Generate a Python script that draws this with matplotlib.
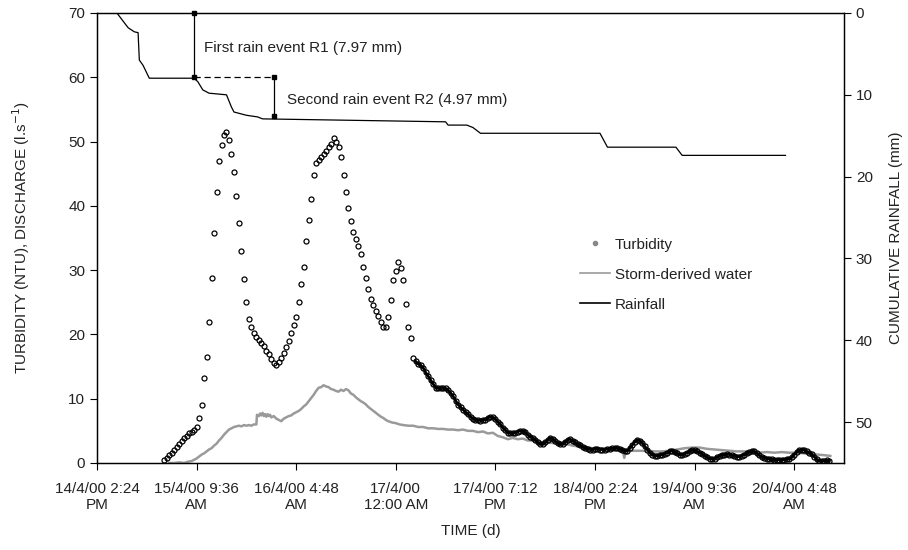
import matplotlib
matplotlib.use('Agg')
import matplotlib.pyplot as plt
from matplotlib.lines import Line2D
import numpy as np

plt.rcParams['font.family'] = ['Liberation Sans', 'DejaVu Sans']

# time axis: days after 14/4/00 2:24 PM
tick_pos = [0.0, 0.8, 1.6, 2.4, 3.2, 4.0, 4.8, 5.6]
tick_labels = ['14/4/00 2:24\nPM', '15/4/00 9:36\nAM', '16/4/00 4:48\nAM', '17/4/00\n12:00 AM',
               '17/4/00 7:12\nPM', '18/4/00 2:24\nPM', '19/4/00 9:36\nAM', '20/4/00 4:48\nAM']

# turbidity (NTU), one reading every 0.02 d from 0.54 d
turb_start = 0.54
turb_step = 0.02
turbidity = [
    0.4, 0.8, 1.2, 1.6, 2.0, 2.5, 3.0, 3.5, 3.9, 4.2,
    4.6, 4.9, 5.2, 5.6, 7.0, 9.0, 13.2, 16.5, 21.9, 28.8,
    35.8, 42.2, 47.0, 49.5, 51.0, 51.5, 50.3, 48.1, 45.2, 41.5,
    37.3, 33.0, 28.7, 25.1, 22.4, 21.1, 20.3, 19.6, 19.1, 18.7,
    18.2, 17.5, 16.9, 16.2, 15.6, 15.3, 15.7, 16.3, 17.1, 18.0,
    19.0, 20.2, 21.4, 22.7, 25.0, 27.9, 30.5, 34.5, 37.8, 41.1,
    44.8, 46.6, 47.1, 47.6, 48.1, 48.6, 49.1, 49.7, 50.5, 50.0,
    49.2, 47.6, 44.8, 42.1, 39.6, 37.7, 35.9, 34.8, 33.7, 32.5,
    30.5, 28.8, 27.0, 25.5, 24.6, 23.7, 22.8, 21.9, 21.2, 21.2,
    22.7, 25.3, 28.4, 29.9, 31.2, 30.4, 28.4, 24.7, 21.1, 19.5,
    16.4, 15.8, 15.4, 15.2, 14.8, 14.1, 13.5, 12.9, 12.3, 11.7,
    11.6, 11.6, 11.6, 11.6, 11.3, 10.9, 10.4, 9.7, 9.1, 8.7,
    8.3, 7.9, 7.6, 7.2, 6.9, 6.7, 6.7, 6.6, 6.7, 6.7,
    7.0, 7.2, 7.1, 6.8, 6.4, 6.0, 5.5, 5.1, 4.7, 4.6,
    4.6, 4.7, 4.9, 5.0, 5.0, 4.8, 4.4, 4.1, 3.9, 3.6,
    3.2, 2.9, 2.9, 3.2, 3.6, 3.9, 3.8, 3.4, 3.1, 2.9,
    3.0, 3.3, 3.6, 3.7, 3.5, 3.2, 2.9, 2.8, 2.5, 2.3,
    2.2, 2.1, 2.1, 2.2, 2.2, 2.1, 2.1, 2.1, 2.2, 2.2,
    2.3, 2.3, 2.3, 2.2, 2.0, 1.9, 1.9, 2.3, 2.8, 3.3,
    3.6, 3.5, 3.1, 2.6, 2.1, 1.6, 1.3, 1.1, 1.1, 1.2,
    1.3, 1.4, 1.6, 1.8, 1.9, 1.7, 1.5, 1.3, 1.2, 1.4,
    1.6, 1.8, 2.0, 2.0, 1.8, 1.6, 1.4, 1.1, 0.9, 0.7,
    0.6, 0.7, 0.9, 1.1, 1.2, 1.3, 1.4, 1.3, 1.2, 1.1,
    1.0, 1.0, 1.1, 1.3, 1.5, 1.7, 1.8, 1.8, 1.5, 1.2,
    0.9, 0.8, 0.7, 0.6, 0.6, 0.5, 0.5, 0.5, 0.5, 0.5,
    0.6, 0.6, 0.9, 1.3, 1.7, 2.0, 2.1, 2.0, 1.8, 1.6,
    1.4, 1.0, 0.6, 0.3, 0.3, 0.3, 0.4, 0.3,
]

# storm-derived water discharge (l/s): (day, value)
storm = [
    (0.58, 0.0), (0.62, 0.0), (0.66, 0.1), (0.70, 0.0), (0.73, 0.2), (0.76, 0.3), (0.78, 0.5),
    (0.80, 0.7), (0.82, 1.0), (0.84, 1.3), (0.86, 1.5), (0.88, 1.8), (0.90, 2.1), (0.92, 2.3),
    (0.94, 2.7), (0.96, 3.0), (0.98, 3.5), (1.00, 3.9), (1.02, 4.4), (1.04, 4.8), (1.06, 5.2),
    (1.08, 5.4), (1.10, 5.6), (1.12, 5.7), (1.14, 5.8), (1.16, 5.7), (1.18, 5.9), (1.20, 5.8),
    (1.22, 5.9), (1.24, 5.8), (1.26, 6.0), (1.28, 6.0), (1.285, 7.5), (1.30, 7.3), (1.31, 7.7),
    (1.32, 7.4), (1.33, 7.8), (1.34, 7.3), (1.35, 7.6), (1.36, 7.2), (1.37, 7.6), (1.38, 7.3),
    (1.39, 7.5), (1.40, 7.1), (1.42, 7.3), (1.44, 6.9), (1.46, 6.7), (1.48, 6.5), (1.50, 6.9),
    (1.52, 7.1), (1.54, 7.3), (1.56, 7.4), (1.58, 7.7), (1.60, 7.9), (1.62, 8.1), (1.64, 8.4),
    (1.66, 8.8), (1.68, 9.1), (1.70, 9.6), (1.72, 10.1), (1.74, 10.6), (1.76, 11.2), (1.78, 11.7),
    (1.80, 11.8), (1.82, 12.1), (1.84, 11.9), (1.86, 11.8), (1.88, 11.5), (1.90, 11.4), (1.92, 11.2),
    (1.94, 11.1), (1.96, 11.4), (1.98, 11.2), (2.00, 11.5), (2.02, 11.3), (2.04, 10.8), (2.06, 10.6),
    (2.08, 10.2), (2.10, 9.9), (2.12, 9.6), (2.14, 9.4), (2.16, 9.1), (2.18, 8.7), (2.20, 8.4),
    (2.22, 8.1), (2.24, 7.8), (2.26, 7.5), (2.28, 7.2), (2.30, 7.0), (2.32, 6.7), (2.34, 6.5),
    (2.37, 6.3), (2.40, 6.2), (2.43, 6.0), (2.46, 5.9), (2.50, 5.8), (2.54, 5.8), (2.58, 5.6),
    (2.62, 5.6), (2.66, 5.4), (2.70, 5.4), (2.74, 5.3), (2.78, 5.3), (2.82, 5.2), (2.86, 5.2),
    (2.90, 5.1), (2.94, 5.2), (2.98, 5.0), (3.02, 5.0), (3.06, 4.8), (3.10, 4.9), (3.14, 4.6),
    (3.18, 4.7), (3.22, 4.2), (3.26, 4.0), (3.30, 3.7), (3.34, 3.9), (3.38, 3.7), (3.42, 3.8),
    (3.46, 3.5), (3.50, 3.5), (3.54, 3.3), (3.58, 3.2), (3.62, 3.2), (3.66, 3.1), (3.70, 3.0),
    (3.74, 2.9), (3.78, 2.9), (3.82, 2.7), (3.86, 2.6), (3.90, 2.5), (3.94, 2.4), (3.98, 2.3),
    (4.02, 2.3), (4.06, 2.2), (4.10, 2.1), (4.14, 2.1), (4.18, 2.2), (4.22, 2.2), (4.235, 0.8),
    (4.25, 2.0), (4.30, 1.9), (4.36, 1.9), (4.42, 1.9), (4.48, 1.8), (4.54, 1.8), (4.60, 1.9),
    (4.66, 2.1), (4.72, 2.3), (4.78, 2.4), (4.84, 2.4), (4.90, 2.2), (4.96, 2.1), (5.02, 2.0),
    (5.08, 1.9), (5.14, 1.8), (5.20, 1.8), (5.26, 1.7), (5.32, 1.6), (5.38, 1.7), (5.44, 1.6),
    (5.50, 1.7), (5.56, 1.6), (5.62, 1.6), (5.68, 1.5), (5.74, 1.4), (5.80, 1.3), (5.85, 1.2),
    (5.89, 1.1),
]

# cumulative rainfall (mm)
rain_t = [0.16, 0.25, 0.30, 0.33, 0.34, 0.37, 0.42, 0.78, 0.81, 0.85,
          0.90, 1.04, 1.08, 1.10, 1.20, 1.29, 1.33, 2.80, 2.82, 2.97,
          3.02, 3.08, 4.04, 4.10, 4.65, 4.70, 5.53]
rain_mm = [0.0, 1.8, 2.3, 2.4, 5.75, 6.4, 7.97, 7.97, 8.4, 9.4,
           9.8, 10.0, 11.5, 12.1, 12.5, 12.7, 12.94, 13.3, 13.7, 13.7,
           14.0, 14.7, 14.7, 16.4, 16.4, 17.4, 17.4]

# rain event markers (left axis units)
r1_x = 0.78
r2_x = 1.42
r1_y = [70, 60]
r2_y = [60, 54]

text_col = '#222222'
fs = 11
fig = plt.figure(figsize=(9.08, 5.5), dpi=100)
ax = fig.add_axes([97/908, 1 - 463/550, (844 - 97)/908, (463 - 13)/550])
ax2 = ax.twinx()

turb_t = turb_start + turb_step * np.arange(len(turbidity))
turb_v = np.array(turbidity)
ax.plot(turb_t, turb_v, ls='none', marker='o', ms=3.6, mfc='none', mec='black', mew=0.9, zorder=3)
# dense readings in the recession merge into a solid band
tail = turb_t >= 2.55
ax.plot(turb_t[tail], turb_v[tail], color='black', lw=2.0, zorder=3)
storm_t, storm_q = zip(*storm)
ax.plot(storm_t, storm_q, color='#9a9a9a', lw=1.8, zorder=2)
ax2.plot(rain_t, rain_mm, color='black', lw=0.9)

# rain event annotation
ax.plot([r1_x, r1_x], r1_y, color='black', lw=0.9, marker='s', ms=3, clip_on=False)
ax.plot([r1_x, r2_x], [60, 60], color='black', lw=0.9, ls=(0, (5, 3)))
ax.plot([r2_x, r2_x], r2_y, color='black', lw=0.9, marker='s', ms=3)
ax.text(0.86, 64.5, 'First rain event R1 (7.97 mm)', fontsize=fs, color=text_col, va='center')
ax.text(1.53, 56.5, 'Second rain event R2 (4.97 mm)', fontsize=fs, color=text_col, va='center')

ax.set_xlim(0, 6)
ax.set_ylim(0, 70)
ax2.set_ylim(55, 0)
ax.set_xticks(tick_pos)
ax.set_xticklabels(tick_labels, linespacing=1.1)
ax.set_yticks(range(0, 71, 10))
ax2.set_yticks(range(0, 51, 10))
for a in (ax, ax2):
    a.tick_params(direction='out', length=5, width=0.8, labelsize=fs, colors='black', labelcolor=text_col)
    for s in a.spines.values():
        s.set_linewidth(0.9)
ax.tick_params(axis='x', length=5, pad=9)

ax.set_xlabel('TIME (d)', fontsize=fs, color=text_col, labelpad=9)
ax.set_ylabel('TURBIDITY (NTU), DISCHARGE (l.s$^{-1}$)', fontsize=fs, color=text_col, labelpad=26)
ax2.set_ylabel('CUMULATIVE RAINFALL (mm)', fontsize=fs, color=text_col, labelpad=12)

handles = [Line2D([], [], ls='none', marker='o', ms=3, color='#888888'),
           Line2D([], [], color='#9a9a9a', lw=1.2),
           Line2D([], [], color='black', lw=1.2)]
ax.legend(handles, ['Turbidity', 'Storm-derived water', 'Rainfall'], loc='upper left',
          bbox_to_anchor=(566/908, 1 - 224/550), bbox_transform=fig.transFigure,
          frameon=False, fontsize=fs, handlelength=2.0, handletextpad=0.3, labelspacing=1.05,
          labelcolor=text_col)

fig.savefig('out.png', dpi=100)
